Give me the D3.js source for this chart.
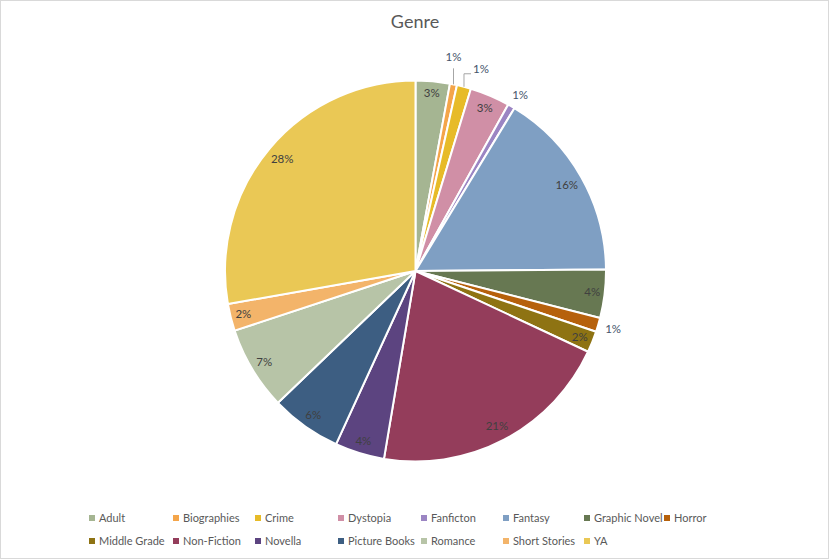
<!DOCTYPE html>
<html><head><meta charset="utf-8">
<script src="https://cdn.jsdelivr.net/npm/d3@7"></script>
<style>body{margin:0;background:#fff}svg{display:block}text{font-family:Lato,"Open Sans",sans-serif}</style>
</head><body><svg id="c" width="829" height="559"></svg>
<script>
const categories = ["Adult","Biographies","Crime","Dystopia","Fanficton","Fantasy","Graphic Novel","Horror","Middle Grade","Non-Fiction","Novella","Picture Books","Romance","Short Stories","YA"];
const values = [2.9,0.6,1.2,3.4,0.6,16.2,4.1,1.2,1.8,20.7,4.2,6.0,7.1,2.3,27.8];
const colors = ["#A5B592","#F4A54A","#E7BB28","#D08FA6","#9B85C3","#7F9FC3","#677852","#B6610C","#8E7313","#943D5B","#5C4480","#3D5E82","#B7C4A7","#F3B46A","#EAC855"];
const title = "Genre";

const svg = d3.select("#c");
svg.append("rect").attr("x",0.5).attr("y",0.5).attr("width",828).attr("height",558).attr("fill","#fff").attr("stroke","#D9D9D9");
svg.append("text").attr("x",415).attr("y",28).attr("text-anchor","middle").attr("font-size",18).attr("fill","#595959").text(title);

const cx = 415.5, cy = 271, r = 190.5;
const total = d3.sum(values);
const data = categories.map((c,i)=>({cat:c, value:values[i], color:colors[i]}));
const pie = d3.pie().sort(null).value(d=>d.value).startAngle(0).endAngle(2*Math.PI);
const arcs = pie(data);
const arc = d3.arc().innerRadius(0).outerRadius(r);
const g = svg.append("g").attr("transform",`translate(${cx},${cy})`);
g.selectAll("path").data(arcs).join("path").attr("d",arc).attr("fill",d=>d.data.color).attr("stroke","#fff").attr("stroke-width",2).attr("stroke-linejoin","round");

const fmt = v => Math.round(v/total*100) + "%";
const outsideR = 204;
const leaders = {"Biographies":{ty:-27, lx:0}, "Crime":{ty:-18, lx:17}};
arcs.forEach(a=>{
  const mid = (a.startAngle+a.endAngle)/2;
  const ux = Math.sin(mid), uy = -Math.cos(mid);
  const pct = a.data.value/total*100;
  const txt = fmt(a.data.value);
  if (pct >= 1.5) {
    const w = txt.length*6.2, h = 12;
    const cxo = (ux>=0?1:-1)*w/2, cyo = (uy>=0?1:-1)*h/2;
    const dot = ux*cxo + uy*cyo;
    const R2 = 185;
    const d = (-2*dot + Math.sqrt(4*dot*dot - 4*(cxo*cxo+cyo*cyo - R2*R2)))/2;
    g.append("text").attr("x",d*ux).attr("y",d*uy).attr("dy","0.35em").attr("text-anchor","middle").attr("font-size",11.5).attr("fill","#404040").text(txt);
  } else if (leaders[a.data.cat]) {
    const L = leaders[a.data.cat];
    const ex = r*ux, ey = r*uy;
    const ty = ey + L.ty;
    const pts = L.lx ? [[ex,ey],[ex,ty+5],[ex+L.lx-10,ty+5]] : [[ex,ey],[ex,ty+11]];
    g.append("path").attr("d",d3.line()(pts)).attr("fill","none").attr("stroke","#A6A6A6").attr("stroke-width",1);
    const tx = L.lx ? ex+L.lx : ex;
    g.append("text").attr("x",tx).attr("y",ty).attr("dy","0.35em").attr("text-anchor","middle").attr("font-size",11.5).attr("fill","#44546A").text(txt);
  } else {
    g.append("text").attr("x",outsideR*ux+2).attr("y",outsideR*uy).attr("dy","0.35em").attr("text-anchor","middle").attr("font-size",11.5).attr("fill","#44546A").text(txt);
  }
});

const colX = [92,176,258,341,424,506,587,667];
const rowY = [518,541];
const perRow = 8;
const lg = svg.append("g");
data.forEach((d,i)=>{
  const row = Math.floor(i/perRow), col = i%perRow;
  const x = colX[col], y = rowY[row];
  lg.append("rect").attr("x",x-3).attr("y",y-3).attr("width",6).attr("height",6).attr("fill",d.color);
  lg.append("text").attr("x",x+7).attr("y",y).attr("dy","0.35em").attr("font-size",11).attr("fill","#595959").text(d.cat);
});
</script></body></html>
